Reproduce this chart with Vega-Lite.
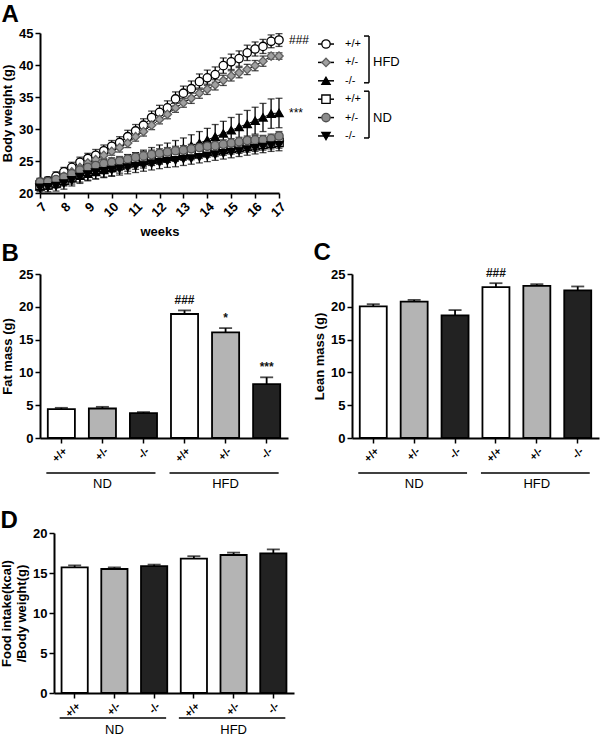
{
 "$schema": "https://vega.github.io/schema/vega-lite/v6.json",
 "padding": {"left": 0, "top": 3, "right": 2, "bottom": 2},
 "background": "#ffffff",
 "config": {
  "font": "Liberation Sans",
  "view": {"stroke": null},
  "axis": {"grid": false, "domainColor": "#000", "domainWidth": 2, "tickColor": "#000", "tickWidth": 1.5, "tickSize": 5, "labelFont": "Liberation Sans", "labelFontWeight": "bold", "labelFontSize": 13, "labelColor": "#000", "titleFont": "Liberation Sans", "titleFontWeight": "bold", "titleFontSize": 13, "titleColor": "#000", "labelPadding": 2, "titlePadding": 4},
  "title": {"font": "Liberation Sans", "fontSize": 24, "fontWeight": "bold", "anchor": "start", "color": "#000"},
  "text": {"font": "Liberation Sans", "color": "#000"}
 },
 "datasets": {
  "bw": [
   {"g":"HFD +/+","w":7,"y":21.6,"e":0.6},{"g":"HFD +/+","w":7.33,"y":21.9,"e":0.6},{"g":"HFD +/+","w":7.67,"y":22.6,"e":0.7},{"g":"HFD +/+","w":8,"y":23.3,"e":0.7},{"g":"HFD +/+","w":8.33,"y":24.0,"e":0.8},{"g":"HFD +/+","w":8.67,"y":24.8,"e":0.8},{"g":"HFD +/+","w":9,"y":25.4,"e":0.8},{"g":"HFD +/+","w":9.33,"y":25.9,"e":0.9},{"g":"HFD +/+","w":9.67,"y":26.6,"e":0.9},{"g":"HFD +/+","w":10,"y":27.3,"e":0.9},{"g":"HFD +/+","w":10.33,"y":27.9,"e":0.9},{"g":"HFD +/+","w":10.67,"y":28.8,"e":1.0},{"g":"HFD +/+","w":11,"y":29.7,"e":1.0},{"g":"HFD +/+","w":11.33,"y":30.6,"e":1.0},{"g":"HFD +/+","w":11.67,"y":31.8,"e":1.0},{"g":"HFD +/+","w":12,"y":32.6,"e":1.1},{"g":"HFD +/+","w":12.33,"y":33.3,"e":1.1},{"g":"HFD +/+","w":12.67,"y":34.7,"e":1.1},{"g":"HFD +/+","w":13,"y":35.6,"e":1.1},{"g":"HFD +/+","w":13.33,"y":36.3,"e":1.2},{"g":"HFD +/+","w":13.67,"y":37.4,"e":1.2},{"g":"HFD +/+","w":14,"y":38.0,"e":1.2},{"g":"HFD +/+","w":14.33,"y":38.5,"e":1.2},{"g":"HFD +/+","w":14.67,"y":39.9,"e":1.2},{"g":"HFD +/+","w":15,"y":40.5,"e":1.2},{"g":"HFD +/+","w":15.33,"y":41.0,"e":1.2},{"g":"HFD +/+","w":15.67,"y":41.9,"e":1.2},{"g":"HFD +/+","w":16,"y":42.5,"e":1.1},{"g":"HFD +/+","w":16.33,"y":42.9,"e":1.1},{"g":"HFD +/+","w":16.67,"y":43.7,"e":1.0},{"g":"HFD +/+","w":17,"y":43.9,"e":1.0},
   {"g":"HFD +/-","w":7,"y":21.6,"e":0.5},{"g":"HFD +/-","w":7.33,"y":21.6,"e":0.5},{"g":"HFD +/-","w":7.67,"y":22.0,"e":0.5},{"g":"HFD +/-","w":8,"y":22.6,"e":0.6},{"g":"HFD +/-","w":8.33,"y":23.3,"e":0.6},{"g":"HFD +/-","w":8.67,"y":24.0,"e":0.6},{"g":"HFD +/-","w":9,"y":24.7,"e":0.6},{"g":"HFD +/-","w":9.33,"y":25.2,"e":0.6},{"g":"HFD +/-","w":9.67,"y":25.9,"e":0.6},{"g":"HFD +/-","w":10,"y":26.5,"e":0.6},{"g":"HFD +/-","w":10.33,"y":27.1,"e":0.7},{"g":"HFD +/-","w":10.67,"y":27.8,"e":0.7},{"g":"HFD +/-","w":11,"y":28.8,"e":0.7},{"g":"HFD +/-","w":11.33,"y":29.6,"e":0.7},{"g":"HFD +/-","w":11.67,"y":30.6,"e":0.7},{"g":"HFD +/-","w":12,"y":31.5,"e":0.7},{"g":"HFD +/-","w":12.33,"y":32.3,"e":0.7},{"g":"HFD +/-","w":12.67,"y":33.3,"e":0.7},{"g":"HFD +/-","w":13,"y":34.1,"e":0.7},{"g":"HFD +/-","w":13.33,"y":34.8,"e":0.8},{"g":"HFD +/-","w":13.67,"y":35.6,"e":0.8},{"g":"HFD +/-","w":14,"y":36.2,"e":0.8},{"g":"HFD +/-","w":14.33,"y":36.9,"e":0.8},{"g":"HFD +/-","w":14.67,"y":37.6,"e":0.8},{"g":"HFD +/-","w":15,"y":38.3,"e":0.8},{"g":"HFD +/-","w":15.33,"y":38.8,"e":0.8},{"g":"HFD +/-","w":15.67,"y":39.3,"e":0.8},{"g":"HFD +/-","w":16,"y":39.9,"e":0.8},{"g":"HFD +/-","w":16.33,"y":40.6,"e":0.8},{"g":"HFD +/-","w":16.67,"y":41.4,"e":0.5},{"g":"HFD +/-","w":17,"y":41.4,"e":0.5},
   {"g":"HFD -/-","w":7,"y":21.0,"e":0.5},{"g":"HFD -/-","w":7.33,"y":21.2,"e":0.6},{"g":"HFD -/-","w":7.67,"y":21.5,"e":0.7},{"g":"HFD -/-","w":8,"y":21.9,"e":0.8},{"g":"HFD -/-","w":8.33,"y":22.3,"e":0.9},{"g":"HFD -/-","w":8.67,"y":22.7,"e":1.0},{"g":"HFD -/-","w":9,"y":23.0,"e":1.0},{"g":"HFD -/-","w":9.33,"y":23.3,"e":1.1},{"g":"HFD -/-","w":9.67,"y":23.6,"e":1.1},{"g":"HFD -/-","w":10,"y":23.9,"e":1.2},{"g":"HFD -/-","w":10.33,"y":24.3,"e":1.2},{"g":"HFD -/-","w":10.67,"y":24.7,"e":1.3},{"g":"HFD -/-","w":11,"y":25.0,"e":1.3},{"g":"HFD -/-","w":11.33,"y":25.3,"e":1.4},{"g":"HFD -/-","w":11.67,"y":25.7,"e":1.4},{"g":"HFD -/-","w":12,"y":26.0,"e":1.5},{"g":"HFD -/-","w":12.33,"y":26.3,"e":1.5},{"g":"HFD -/-","w":12.67,"y":26.6,"e":1.6},{"g":"HFD -/-","w":13,"y":27.0,"e":1.6},{"g":"HFD -/-","w":13.33,"y":27.4,"e":1.7},{"g":"HFD -/-","w":13.67,"y":27.8,"e":1.8},{"g":"HFD -/-","w":14,"y":28.3,"e":1.8},{"g":"HFD -/-","w":14.33,"y":28.8,"e":1.9},{"g":"HFD -/-","w":14.67,"y":29.3,"e":1.9},{"g":"HFD -/-","w":15,"y":29.8,"e":2.0},{"g":"HFD -/-","w":15.33,"y":30.3,"e":2.0},{"g":"HFD -/-","w":15.67,"y":30.8,"e":2.1},{"g":"HFD -/-","w":16,"y":31.3,"e":2.1},{"g":"HFD -/-","w":16.33,"y":31.8,"e":2.2},{"g":"HFD -/-","w":16.67,"y":32.4,"e":2.3},{"g":"HFD -/-","w":17,"y":32.5,"e":2.3},
   {"g":"ND +/+","w":7,"y":21.2,"e":0.6},{"g":"ND +/+","w":7.33,"y":21.3,"e":0.7},{"g":"ND +/+","w":7.67,"y":21.6,"e":0.7},{"g":"ND +/+","w":8,"y":22.0,"e":0.8},{"g":"ND +/+","w":8.33,"y":22.5,"e":0.8},{"g":"ND +/+","w":8.67,"y":23.0,"e":0.8},{"g":"ND +/+","w":9,"y":23.4,"e":0.9},{"g":"ND +/+","w":9.33,"y":23.7,"e":0.9},{"g":"ND +/+","w":9.67,"y":24.0,"e":0.9},{"g":"ND +/+","w":10,"y":24.2,"e":0.9},{"g":"ND +/+","w":10.33,"y":24.4,"e":0.9},{"g":"ND +/+","w":10.67,"y":24.7,"e":0.9},{"g":"ND +/+","w":11,"y":25.0,"e":0.9},{"g":"ND +/+","w":11.33,"y":25.1,"e":0.9},{"g":"ND +/+","w":11.67,"y":25.3,"e":0.9},{"g":"ND +/+","w":12,"y":25.5,"e":0.9},{"g":"ND +/+","w":12.33,"y":25.7,"e":0.9},{"g":"ND +/+","w":12.67,"y":25.9,"e":0.9},{"g":"ND +/+","w":13,"y":26.0,"e":0.9},{"g":"ND +/+","w":13.33,"y":26.1,"e":0.9},{"g":"ND +/+","w":13.67,"y":26.3,"e":0.9},{"g":"ND +/+","w":14,"y":26.5,"e":0.9},{"g":"ND +/+","w":14.33,"y":26.6,"e":0.9},{"g":"ND +/+","w":14.67,"y":26.8,"e":0.9},{"g":"ND +/+","w":15,"y":27.0,"e":0.9},{"g":"ND +/+","w":15.33,"y":27.1,"e":0.9},{"g":"ND +/+","w":15.67,"y":27.3,"e":0.9},{"g":"ND +/+","w":16,"y":27.4,"e":0.9},{"g":"ND +/+","w":16.33,"y":27.6,"e":0.9},{"g":"ND +/+","w":16.67,"y":27.8,"e":0.9},{"g":"ND +/+","w":17,"y":27.9,"e":0.9},
   {"g":"ND +/-","w":7,"y":21.7,"e":0.6},{"g":"ND +/-","w":7.33,"y":21.8,"e":0.6},{"g":"ND +/-","w":7.67,"y":22.1,"e":0.6},{"g":"ND +/-","w":8,"y":22.5,"e":0.6},{"g":"ND +/-","w":8.33,"y":23.0,"e":0.6},{"g":"ND +/-","w":8.67,"y":23.6,"e":0.6},{"g":"ND +/-","w":9,"y":24.0,"e":0.7},{"g":"ND +/-","w":9.33,"y":24.3,"e":0.7},{"g":"ND +/-","w":9.67,"y":24.6,"e":0.7},{"g":"ND +/-","w":10,"y":24.8,"e":0.7},{"g":"ND +/-","w":10.33,"y":25.0,"e":0.7},{"g":"ND +/-","w":10.67,"y":25.3,"e":0.7},{"g":"ND +/-","w":11,"y":25.6,"e":0.7},{"g":"ND +/-","w":11.33,"y":25.8,"e":0.7},{"g":"ND +/-","w":11.67,"y":26.0,"e":0.7},{"g":"ND +/-","w":12,"y":26.2,"e":0.7},{"g":"ND +/-","w":12.33,"y":26.4,"e":0.7},{"g":"ND +/-","w":12.67,"y":26.6,"e":0.7},{"g":"ND +/-","w":13,"y":26.7,"e":0.7},{"g":"ND +/-","w":13.33,"y":26.9,"e":0.7},{"g":"ND +/-","w":13.67,"y":27.1,"e":0.7},{"g":"ND +/-","w":14,"y":27.3,"e":0.7},{"g":"ND +/-","w":14.33,"y":27.4,"e":0.7},{"g":"ND +/-","w":14.67,"y":27.6,"e":0.7},{"g":"ND +/-","w":15,"y":27.8,"e":0.7},{"g":"ND +/-","w":15.33,"y":28.0,"e":0.7},{"g":"ND +/-","w":15.67,"y":28.2,"e":0.7},{"g":"ND +/-","w":16,"y":28.3,"e":0.7},{"g":"ND +/-","w":16.33,"y":28.3,"e":0.7},{"g":"ND +/-","w":16.67,"y":28.5,"e":0.7},{"g":"ND +/-","w":17,"y":28.9,"e":0.7},
   {"g":"ND -/-","w":7,"y":20.8,"e":0.6},{"g":"ND -/-","w":7.33,"y":20.9,"e":0.7},{"g":"ND -/-","w":7.67,"y":21.1,"e":0.8},{"g":"ND -/-","w":8,"y":21.5,"e":0.9},{"g":"ND -/-","w":8.33,"y":22.0,"e":0.9},{"g":"ND -/-","w":8.67,"y":22.5,"e":1.0},{"g":"ND -/-","w":9,"y":22.9,"e":1.0},{"g":"ND -/-","w":9.33,"y":23.2,"e":1.0},{"g":"ND -/-","w":9.67,"y":23.4,"e":1.0},{"g":"ND -/-","w":10,"y":23.6,"e":1.0},{"g":"ND -/-","w":10.33,"y":23.8,"e":1.0},{"g":"ND -/-","w":10.67,"y":24.0,"e":1.0},{"g":"ND -/-","w":11,"y":24.2,"e":1.0},{"g":"ND -/-","w":11.33,"y":24.4,"e":1.0},{"g":"ND -/-","w":11.67,"y":24.6,"e":1.0},{"g":"ND -/-","w":12,"y":24.8,"e":1.0},{"g":"ND -/-","w":12.33,"y":25.0,"e":1.0},{"g":"ND -/-","w":12.67,"y":25.1,"e":1.0},{"g":"ND -/-","w":13,"y":25.3,"e":1.0},{"g":"ND -/-","w":13.33,"y":25.4,"e":0.9},{"g":"ND -/-","w":13.67,"y":25.6,"e":0.9},{"g":"ND -/-","w":14,"y":25.8,"e":0.9},{"g":"ND -/-","w":14.33,"y":26.0,"e":0.9},{"g":"ND -/-","w":14.67,"y":26.2,"e":0.9},{"g":"ND -/-","w":15,"y":26.4,"e":0.9},{"g":"ND -/-","w":15.33,"y":26.6,"e":0.9},{"g":"ND -/-","w":15.67,"y":26.8,"e":0.9},{"g":"ND -/-","w":16,"y":27.0,"e":0.9},{"g":"ND -/-","w":16.33,"y":27.2,"e":0.9},{"g":"ND -/-","w":16.67,"y":27.4,"e":0.9},{"g":"ND -/-","w":17,"y":27.5,"e":0.9}
  ],
  "wtnotes": [{"w":17,"y":43.9,"t":"###"},{"w":17,"y":32.5,"t":"***"}],
  "legend": [{"g":"HFD +/+","lab":"+/+"},{"g":"HFD +/-","lab":"+/-"},{"g":"HFD -/-","lab":"-/-"},{"g":"ND +/+","lab":"+/+"},{"g":"ND +/-","lab":"+/-"},{"g":"ND -/-","lab":"-/-"}],
  "brackets": [{"grp":"HFD","top":"HFD +/+","mid":"HFD +/-","bot":"HFD -/-"},{"grp":"ND","top":"ND +/+","mid":"ND +/-","bot":"ND -/-"}],
  "fat": [{"k":"ND +/+","v":4.4,"hi":4.6,"note":""},{"k":"ND +/-","v":4.5,"hi":4.75,"note":""},{"k":"ND -/-","v":3.8,"hi":3.95,"note":""},{"k":"HFD +/+","v":18.9,"hi":19.45,"note":"###"},{"k":"HFD +/-","v":16.1,"hi":16.75,"note":"*"},{"k":"HFD -/-","v":8.2,"hi":9.25,"note":"***"}],
  "lean": [{"k":"ND +/+","v":20.05,"hi":20.4,"note":""},{"k":"ND +/-","v":20.8,"hi":21.05,"note":""},{"k":"ND -/-","v":18.7,"hi":19.5,"note":""},{"k":"HFD +/+","v":23.0,"hi":23.6,"note":"###"},{"k":"HFD +/-","v":23.2,"hi":23.45,"note":""},{"k":"HFD -/-","v":22.5,"hi":23.1,"note":""}],
  "food": [{"k":"ND +/+","v":15.7,"hi":15.95},{"k":"ND +/-","v":15.5,"hi":15.7},{"k":"ND -/-","v":15.85,"hi":16.05},{"k":"HFD +/+","v":16.8,"hi":17.1},{"k":"HFD +/-","v":17.25,"hi":17.55},{"k":"HFD -/-","v":17.45,"hi":17.95}],
  "groups": [{"diet":"ND","first":"ND +/+","mid":"ND +/-","last":"ND -/-"},{"diet":"HFD","first":"HFD +/+","mid":"HFD +/-","last":"HFD -/-"}]
 },
 "resolve": {"scale": {"fill": "independent", "stroke": "independent", "shape": "independent", "size": "independent"}},
 "spacing": 18,
 "vconcat": [
  {
   "resolve": {"scale": {"fill": "independent", "stroke": "independent", "shape": "independent", "size": "independent"}},
   "spacing": 2,
   "vconcat": [
    {
     "spacing": 7,
     "hconcat": [
      {
       "width": 239, "height": 160,
       "title": {"text": "A", "offset": 0},
       "encoding": {
        "x": {"field": "w", "type": "quantitative", "scale": {"domain": [7, 17], "nice": false, "zero": false}, "axis": {"values": [7,8,9,10,11,12,13,14,15,16,17], "labelAngle": -45, "title": "weeks", "titlePadding": 6}},
        "y": {"field": "y", "type": "quantitative", "scale": {"domain": [20, 45], "nice": false, "zero": false}, "axis": {"values": [20,25,30,35,40,45], "title": "Body weight (g)"}}
       },
       "layer": [
        {
         "data": {"name": "bw"},
         "mark": {"type": "errorbar", "ticks": {"size": 7}, "thickness": 1.3, "color": "#000"},
         "encoding": {"yError": {"field": "e"}, "detail": {"field": "g"}}
        },
        {
         "data": {"name": "bw"},
         "mark": {"type": "line", "color": "#000", "strokeWidth": 1},
         "encoding": {"detail": {"field": "g"}}
        },
        {
         "data": {"name": "bw"},
         "mark": {"type": "point", "filled": true, "opacity": 1, "strokeWidth": 1.3},
         "encoding": {
          "shape": {"field": "g", "type": "nominal", "scale": {"domain": ["HFD +/+","HFD +/-","HFD -/-","ND +/+","ND +/-","ND -/-"], "range": ["circle","diamond","triangle-up","square","circle","triangle-down"]}, "legend": null},
          "fill": {"field": "g", "type": "nominal", "scale": {"domain": ["HFD +/+","HFD +/-","HFD -/-","ND +/+","ND +/-","ND -/-"], "range": ["#ffffff","#a0a0a0","#000000","#ffffff","#8c8c8c","#000000"]}, "legend": null},
          "stroke": {"field": "g", "type": "nominal", "scale": {"domain": ["HFD +/+","HFD +/-","HFD -/-","ND +/+","ND +/-","ND -/-"], "range": ["#000000","#606060","#000000","#000000","#505050","#000000"]}, "legend": null},
          "size": {"field": "g", "type": "nominal", "scale": {"domain": ["HFD +/+","HFD +/-","HFD -/-","ND +/+","ND +/-","ND -/-"], "range": [70,70,25,55,60,45]}, "legend": null}
         }
        },
        {
         "data": {"name": "wtnotes"},
         "mark": {"type": "text", "align": "left", "baseline": "middle", "dx": 10, "fontSize": 12, "color": "#000"},
         "encoding": {"text": {"field": "t"}}
        }
       ]
      },
      {
       "width": 100, "height": 114,
       "layer": [
        {
         "data": {"name": "legend"},
         "mark": {"type": "rule", "color": "#000", "strokeWidth": 1.5},
         "encoding": {
          "x": {"datum": 0, "type": "quantitative", "scale": {"domain": [0, 100]}, "axis": null},
          "x2": {"datum": 16},
          "y": {"field": "g", "type": "nominal", "scale": {"type": "point", "domain": ["HFD +/+","HFD +/-","HFD -/-","ND +/+","ND +/-","ND -/-"], "padding": 0.6}, "axis": null}
         }
        },
        {
         "data": {"name": "legend"},
         "mark": {"type": "point", "filled": true, "opacity": 1, "strokeWidth": 1.3},
         "encoding": {
          "x": {"datum": 8, "type": "quantitative", "axis": null},
          "y": {"field": "g", "type": "nominal", "axis": null},
          "shape": {"field": "g", "type": "nominal", "scale": {"domain": ["HFD +/+","HFD +/-","HFD -/-","ND +/+","ND +/-","ND -/-"], "range": ["circle","diamond","triangle-up","square","circle","triangle-down"]}, "legend": null},
          "fill": {"field": "g", "type": "nominal", "scale": {"domain": ["HFD +/+","HFD +/-","HFD -/-","ND +/+","ND +/-","ND -/-"], "range": ["#ffffff","#a0a0a0","#000000","#ffffff","#8c8c8c","#000000"]}, "legend": null},
          "stroke": {"field": "g", "type": "nominal", "scale": {"domain": ["HFD +/+","HFD +/-","HFD -/-","ND +/+","ND +/-","ND -/-"], "range": ["#000000","#606060","#000000","#000000","#505050","#000000"]}, "legend": null},
          "size": {"field": "g", "type": "nominal", "scale": {"domain": ["HFD +/+","HFD +/-","HFD -/-","ND +/+","ND +/-","ND -/-"], "range": [70,70,25,55,60,45]}, "legend": null}
         }
        },
        {
         "data": {"name": "legend"},
         "mark": {"type": "text", "align": "left", "baseline": "middle", "fontSize": 11},
         "encoding": {
          "x": {"datum": 27, "type": "quantitative", "axis": null},
          "y": {"field": "g", "type": "nominal", "axis": null},
          "text": {"field": "lab"}
         }
        },
        {
         "data": {"name": "brackets"},
         "mark": {"type": "rule", "color": "#000", "strokeWidth": 1.5, "yOffset": -8, "y2Offset": 2},
         "encoding": {
          "x": {"datum": 51, "type": "quantitative", "axis": null},
          "y": {"field": "top", "type": "nominal", "axis": null},
          "y2": {"field": "bot"}
         }
        },
        {
         "data": {"name": "brackets"},
         "mark": {"type": "rule", "color": "#000", "strokeWidth": 1.5, "yOffset": -8},
         "encoding": {
          "x": {"datum": 46, "type": "quantitative", "axis": null},
          "x2": {"datum": 51},
          "y": {"field": "top", "type": "nominal", "axis": null}
         }
        },
        {
         "data": {"name": "brackets"},
         "mark": {"type": "rule", "color": "#000", "strokeWidth": 1.5, "yOffset": 2},
         "encoding": {
          "x": {"datum": 46, "type": "quantitative", "axis": null},
          "x2": {"datum": 51},
          "y": {"field": "bot", "type": "nominal", "axis": null}
         }
        },
        {
         "data": {"name": "brackets"},
         "mark": {"type": "text", "align": "left", "baseline": "middle", "fontSize": 13},
         "encoding": {
          "x": {"datum": 55, "type": "quantitative", "axis": null},
          "y": {"field": "mid", "type": "nominal", "axis": null},
          "text": {"field": "grp"}
         }
        }
       ]
      }
     ]
    },
    {
     "spacing": 25,
     "hconcat": [
      {
       "width": 248, "height": 164,
       "title": {"text": "B", "offset": 2},
       "layer": [
        {
         "data": {"name": "fat"},
         "mark": {"type": "bar", "stroke": "#000", "strokeWidth": 1.8},
         "encoding": {
          "x": {"field": "k", "type": "nominal", "title": null, "sort": null, "scale": {"domain": ["ND +/+","ND +/-","ND -/-","HFD +/+","HFD +/-","HFD -/-"], "paddingInner": 0.34, "paddingOuter": 0.19}, "axis": {"labelExpr": "split(datum.label, ' ')[1]", "labelAngle": -45, "labelFontSize": 11}},
          "y": {"field": "v", "type": "quantitative", "title": "Fat mass (g)", "scale": {"domain": [0, 25], "nice": false}, "axis": {"values": [0,5,10,15,20,25]}},
          "fill": {"field": "k", "type": "nominal", "scale": {"domain": ["ND +/+","ND +/-","ND -/-","HFD +/+","HFD +/-","HFD -/-"], "range": ["#ffffff","#b4b4b4","#222222","#ffffff","#b4b4b4","#222222"]}, "legend": null}
         }
        },
        {
         "data": {"name": "fat"},
         "mark": {"type": "rule", "color": "#000", "strokeWidth": 1.8},
         "encoding": {
          "x": {"field": "k", "type": "nominal", "title": null, "axis": {"labelExpr": "split(datum.label, ' ')[1]", "labelAngle": -45, "labelFontSize": 11}},
          "y": {"field": "v", "type": "quantitative", "title": "Fat mass (g)", "axis": {"values": [0,5,10,15,20,25]}},
          "y2": {"field": "hi"}
         }
        },
        {
         "data": {"name": "fat"},
         "mark": {"type": "tick", "color": "#000", "thickness": 1.8, "size": 13},
         "encoding": {
          "x": {"field": "k", "type": "nominal", "title": null, "axis": {"labelExpr": "split(datum.label, ' ')[1]", "labelAngle": -45, "labelFontSize": 11}},
          "y": {"field": "hi", "type": "quantitative", "title": "Fat mass (g)", "axis": {"values": [0,5,10,15,20,25]}}
         }
        },
        {
         "data": {"name": "fat"},
         "mark": {"type": "text", "baseline": "bottom", "dy": -3, "fontSize": 12, "fontWeight": "bold", "color": "#111"},
         "encoding": {
          "x": {"field": "k", "type": "nominal", "title": null, "axis": {"labelExpr": "split(datum.label, ' ')[1]", "labelAngle": -45, "labelFontSize": 11}},
          "y": {"field": "hi", "type": "quantitative", "title": "Fat mass (g)", "axis": {"values": [0,5,10,15,20,25]}},
          "text": {"field": "note"}
         }
        },
        {
         "data": {"name": "groups"},
         "mark": {"type": "rule", "color": "#000", "strokeWidth": 1.5, "yOffset": 35, "xOffset": -15, "x2Offset": 12},
         "encoding": {
          "x": {"field": "first", "type": "nominal", "title": null, "axis": {"labelExpr": "split(datum.label, ' ')[1]", "labelAngle": -45, "labelFontSize": 11}},
          "x2": {"field": "last"},
          "y": {"datum": 0, "type": "quantitative", "title": "Fat mass (g)", "axis": {"values": [0,5,10,15,20,25]}}
         }
        },
        {
         "data": {"name": "groups"},
         "mark": {"type": "text", "baseline": "middle", "dy": 46, "fontSize": 13},
         "encoding": {
          "x": {"field": "mid", "type": "nominal", "title": null, "axis": {"labelExpr": "split(datum.label, ' ')[1]", "labelAngle": -45, "labelFontSize": 11}},
          "y": {"datum": 0, "type": "quantitative", "title": "Fat mass (g)", "axis": {"values": [0,5,10,15,20,25]}},
          "text": {"field": "diet"}
         }
        }
       ]
      },
      {
       "width": 247, "height": 164,
       "title": {"text": "C", "offset": 2},
       "layer": [
        {
         "data": {"name": "lean"},
         "mark": {"type": "bar", "stroke": "#000", "strokeWidth": 1.8},
         "encoding": {
          "x": {"field": "k", "type": "nominal", "title": null, "sort": null, "scale": {"domain": ["ND +/+","ND +/-","ND -/-","HFD +/+","HFD +/-","HFD -/-"], "paddingInner": 0.34, "paddingOuter": 0.19}, "axis": {"labelExpr": "split(datum.label, ' ')[1]", "labelAngle": -45, "labelFontSize": 11}},
          "y": {"field": "v", "type": "quantitative", "title": "Lean mass (g)", "scale": {"domain": [0, 25], "nice": false}, "axis": {"values": [0,5,10,15,20,25]}},
          "fill": {"field": "k", "type": "nominal", "scale": {"domain": ["ND +/+","ND +/-","ND -/-","HFD +/+","HFD +/-","HFD -/-"], "range": ["#ffffff","#b4b4b4","#222222","#ffffff","#b4b4b4","#222222"]}, "legend": null}
         }
        },
        {
         "data": {"name": "lean"},
         "mark": {"type": "rule", "color": "#000", "strokeWidth": 1.8},
         "encoding": {
          "x": {"field": "k", "type": "nominal", "title": null, "axis": {"labelExpr": "split(datum.label, ' ')[1]", "labelAngle": -45, "labelFontSize": 11}},
          "y": {"field": "v", "type": "quantitative", "title": "Lean mass (g)", "axis": {"values": [0,5,10,15,20,25]}},
          "y2": {"field": "hi"}
         }
        },
        {
         "data": {"name": "lean"},
         "mark": {"type": "tick", "color": "#000", "thickness": 1.8, "size": 13},
         "encoding": {
          "x": {"field": "k", "type": "nominal", "title": null, "axis": {"labelExpr": "split(datum.label, ' ')[1]", "labelAngle": -45, "labelFontSize": 11}},
          "y": {"field": "hi", "type": "quantitative", "title": "Lean mass (g)", "axis": {"values": [0,5,10,15,20,25]}}
         }
        },
        {
         "data": {"name": "lean"},
         "mark": {"type": "text", "baseline": "bottom", "dy": -3, "fontSize": 12, "fontWeight": "bold", "color": "#111"},
         "encoding": {
          "x": {"field": "k", "type": "nominal", "title": null, "axis": {"labelExpr": "split(datum.label, ' ')[1]", "labelAngle": -45, "labelFontSize": 11}},
          "y": {"field": "hi", "type": "quantitative", "title": "Lean mass (g)", "axis": {"values": [0,5,10,15,20,25]}},
          "text": {"field": "note"}
         }
        },
        {
         "data": {"name": "groups"},
         "mark": {"type": "rule", "color": "#000", "strokeWidth": 1.5, "yOffset": 35, "xOffset": -15, "x2Offset": 12},
         "encoding": {
          "x": {"field": "first", "type": "nominal", "title": null, "axis": {"labelExpr": "split(datum.label, ' ')[1]", "labelAngle": -45, "labelFontSize": 11}},
          "x2": {"field": "last"},
          "y": {"datum": 0, "type": "quantitative", "title": "Lean mass (g)", "axis": {"values": [0,5,10,15,20,25]}}
         }
        },
        {
         "data": {"name": "groups"},
         "mark": {"type": "text", "baseline": "middle", "dy": 46, "fontSize": 13},
         "encoding": {
          "x": {"field": "mid", "type": "nominal", "title": null, "axis": {"labelExpr": "split(datum.label, ' ')[1]", "labelAngle": -45, "labelFontSize": 11}},
          "y": {"datum": 0, "type": "quantitative", "title": "Lean mass (g)", "axis": {"values": [0,5,10,15,20,25]}},
          "text": {"field": "diet"}
         }
        }
       ]
      }
     ]
    }
   ]
  },
  {
   "bounds": "flush",
   "spacing": 13,
   "hconcat": [
    {"width": 1, "height": 1, "data": {"values": []}, "mark": "point"},
    {
     "width": 240, "height": 160,
     "title": {"text": "D", "offset": -6},
     "layer": [
      {
       "data": {"name": "food"},
       "mark": {"type": "bar", "stroke": "#000", "strokeWidth": 1.8},
       "encoding": {
        "x": {"field": "k", "type": "nominal", "title": null, "sort": null, "scale": {"domain": ["ND +/+","ND +/-","ND -/-","HFD +/+","HFD +/-","HFD -/-"], "paddingInner": 0.34, "paddingOuter": 0.19}, "axis": {"labelExpr": "split(datum.label, ' ')[1]", "labelAngle": -45, "labelFontSize": 11}},
        "y": {"field": "v", "type": "quantitative", "title": ["Food intake(kcal)", "/Body weight(g)"], "scale": {"domain": [0, 20], "nice": false}, "axis": {"values": [0,5,10,15,20]}},
        "fill": {"field": "k", "type": "nominal", "scale": {"domain": ["ND +/+","ND +/-","ND -/-","HFD +/+","HFD +/-","HFD -/-"], "range": ["#ffffff","#b4b4b4","#222222","#ffffff","#b4b4b4","#222222"]}, "legend": null}
       }
      },
      {
       "data": {"name": "food"},
       "mark": {"type": "rule", "color": "#000", "strokeWidth": 1.8},
       "encoding": {
        "x": {"field": "k", "type": "nominal", "title": null, "axis": {"labelExpr": "split(datum.label, ' ')[1]", "labelAngle": -45, "labelFontSize": 11}},
        "y": {"field": "v", "type": "quantitative", "title": ["Food intake(kcal)", "/Body weight(g)"], "axis": {"values": [0,5,10,15,20]}},
        "y2": {"field": "hi"}
       }
      },
      {
       "data": {"name": "food"},
       "mark": {"type": "tick", "color": "#000", "thickness": 1.8, "size": 13},
       "encoding": {
        "x": {"field": "k", "type": "nominal", "title": null, "axis": {"labelExpr": "split(datum.label, ' ')[1]", "labelAngle": -45, "labelFontSize": 11}},
        "y": {"field": "hi", "type": "quantitative", "title": ["Food intake(kcal)", "/Body weight(g)"], "axis": {"values": [0,5,10,15,20]}}
       }
      },
      {
       "data": {"name": "groups"},
       "mark": {"type": "rule", "color": "#000", "strokeWidth": 1.5, "yOffset": 25, "xOffset": -15, "x2Offset": 12},
       "encoding": {
        "x": {"field": "first", "type": "nominal", "title": null, "axis": {"labelExpr": "split(datum.label, ' ')[1]", "labelAngle": -45, "labelFontSize": 11}},
        "x2": {"field": "last"},
        "y": {"datum": 0, "type": "quantitative", "title": ["Food intake(kcal)", "/Body weight(g)"], "axis": {"values": [0,5,10,15,20]}}
       }
      },
      {
       "data": {"name": "groups"},
       "mark": {"type": "text", "baseline": "middle", "dy": 37, "fontSize": 13},
       "encoding": {
        "x": {"field": "mid", "type": "nominal", "title": null, "axis": {"labelExpr": "split(datum.label, ' ')[1]", "labelAngle": -45, "labelFontSize": 11}},
        "y": {"datum": 0, "type": "quantitative", "title": ["Food intake(kcal)", "/Body weight(g)"], "axis": {"values": [0,5,10,15,20]}},
        "text": {"field": "diet"}
       }
      }
     ]
    }
   ]
  }
 ]
}
